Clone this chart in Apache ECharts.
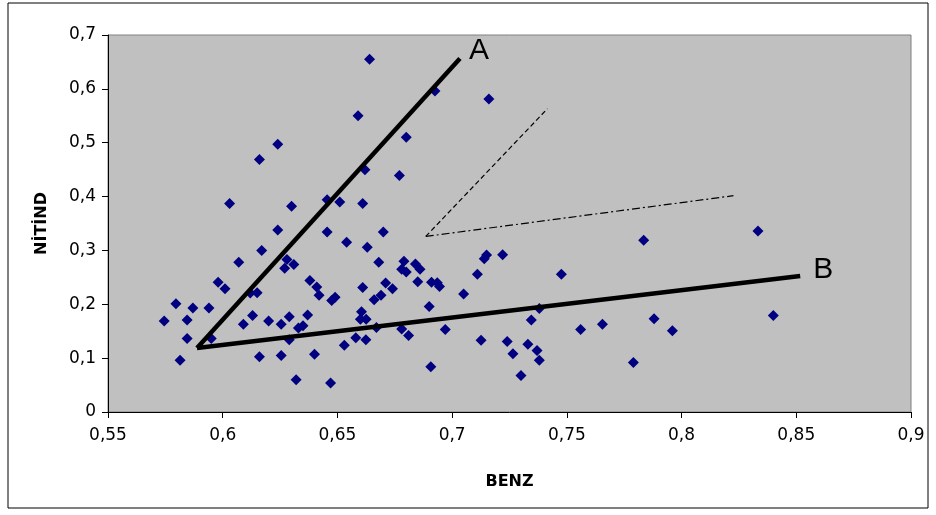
<!DOCTYPE html>
<html>
<head>
<meta charset="utf-8">
<script src="https://cdn.jsdelivr.net/npm/echarts@6/dist/echarts.min.js"></script>
<style>
html,body{margin:0;padding:0;background:#fff;}
#chart{width:936px;height:515px;}
</style>
</head>
<body>
<div id="chart"></div>
<script>
// BENZ (x) values
const benz = [
0.664,0.6925,0.716,0.659,0.680,0.624,0.616,0.662,0.677,0.603,
0.630,0.6455,0.651,0.661,0.624,0.6455,0.670,0.654,0.663,0.617,
0.607,0.628,0.627,0.631,0.668,0.679,0.678,0.680,0.684,0.686,
0.598,0.601,0.612,0.615,0.638,0.641,0.642,0.6475,0.649,0.661,
0.666,0.669,0.671,0.674,0.685,0.691,0.6935,0.6945,0.690,0.705,
0.711,0.715,0.714,0.722,0.7476,0.7835,0.8333,0.5796,0.587,0.594,
0.5745,0.5845,0.613,0.609,0.620,0.6255,0.629,0.633,0.637,0.635,
0.6605,0.660,0.6625,0.667,0.678,0.681,0.697,0.738,0.7345,0.756,
0.7655,0.788,0.796,0.840,0.5845,0.595,0.629,0.658,0.6624,0.653,
0.7126,0.724,0.733,0.737,0.7265,0.738,0.779,0.5814,0.616,0.6255,
0.640,0.632,0.647,0.6907,0.730
];
// NİTİND (y) values
const nitind = [
0.655,0.596,0.581,0.550,0.510,0.497,0.469,0.450,0.439,0.387,
0.382,0.394,0.390,0.387,0.338,0.334,0.334,0.315,0.306,0.300,
0.278,0.283,0.267,0.274,0.278,0.280,0.265,0.260,0.275,0.265,
0.241,0.229,0.221,0.2215,0.244,0.232,0.217,0.207,0.213,0.231,
0.2085,0.217,0.2395,0.229,0.242,0.241,0.240,0.233,0.196,0.219,
0.256,0.2915,0.2846,0.292,0.256,0.319,0.336,0.201,0.193,0.193,
0.169,0.171,0.179,0.163,0.169,0.163,0.177,0.156,0.180,0.160,
0.186,0.172,0.172,0.157,0.154,0.142,0.153,0.192,0.171,0.153,
0.163,0.173,0.151,0.179,0.1365,0.1365,0.134,0.138,0.134,0.124,
0.133,0.131,0.126,0.114,0.108,0.096,0.092,0.096,0.1025,0.105,
0.107,0.060,0.054,0.084,0.068
];
// annotation lines (x, y pairs)
const lineAx = [0.5888, 0.7034];
const lineAy = [0.1188, 0.6563];
const lineBx = [0.5888, 0.8517];
const lineBy = [0.1188, 0.2525];
const dashX = [0.6885, 0.7415];
const dashY = [0.326, 0.563];
const dashDotX = [0.6885, 0.8226];
const dashDotY = [0.326, 0.4016];
const lineLabels = ['A', 'B'];

const pts = benz.map((x, i) => [x, nitind[i]]);
const seg = (xs, ys) => xs.map((x, i) => [x, ys[i]]);
const labelPts = [
  { value: [lineAx[1], lineAy[1]], name: lineLabels[0], label: { offset: [0, -8] } },
  { value: [lineBx[1], lineBy[1]], name: lineLabels[1], label: { offset: [4, -6] } }
];
function fmt(v) {
  if (Math.abs(v) < 1e-9) return '0';
  return parseFloat(v.toFixed(2)).toString().replace('.', ',');
}
const tickFont = { fontFamily: 'DejaVu Sans, sans-serif', fontSize: 17, color: '#000' };

const chart = echarts.init(document.getElementById('chart'), null, { renderer: 'canvas' });
chart.setOption({
  animation: false,
  backgroundColor: '#fff',
  graphic: [{
    type: 'rect', shape: { x: 8, y: 3, width: 920, height: 505 },
    style: { fill: 'none', stroke: '#000', lineWidth: 1 }, z: 100, silent: true
  }],
  grid: {
    left: 108, right: 25, top: 35, bottom: 103,
    show: true, backgroundColor: '#C0C0C0', borderColor: '#808080', borderWidth: 1
  },
  xAxis: {
    type: 'value', min: 0.55, max: 0.9, interval: 0.05,
    name: 'BENZ', nameLocation: 'middle', nameGap: 62,
    nameTextStyle: { fontFamily: 'DejaVu Sans, sans-serif', fontWeight: 'bold', fontSize: 16, color: '#000' },
    axisLine: { show: true, lineStyle: { color: '#000', width: 1 } },
    axisTick: { show: true, length: 6, inside: false, lineStyle: { color: '#000' } },
    axisLabel: Object.assign({ margin: 15, formatter: fmt }, tickFont),
    splitLine: { show: false }
  },
  yAxis: {
    type: 'value', min: 0, max: 0.7, interval: 0.1,
    name: 'NİTİND', nameLocation: 'middle', nameGap: 58,
    nameTextStyle: { fontFamily: 'DejaVu Sans, sans-serif', fontWeight: 'bold', fontSize: 16, color: '#000' },
    axisLine: { show: true, lineStyle: { color: '#000', width: 1 } },
    axisTick: { show: true, length: 6, inside: false, lineStyle: { color: '#000' } },
    axisLabel: Object.assign({ margin: 12, formatter: fmt }, tickFont),
    splitLine: { show: false }
  },
  series: [
    {
      type: 'scatter', data: pts, symbol: 'diamond', symbolSize: 11,
      itemStyle: { color: '#000080', opacity: 1 }, z: 2
    },
    {
      type: 'line', data: seg(lineAx, lineAy), symbol: 'none',
      lineStyle: { color: '#000', width: 4.5 }, z: 5
    },
    {
      type: 'line', data: seg(lineBx, lineBy), symbol: 'none',
      lineStyle: { color: '#000', width: 4.5 }, z: 5
    },
    {
      type: 'line', data: seg(dashX, dashY), symbol: 'none',
      lineStyle: { color: '#000', width: 1.2, type: [5, 3] }, z: 4
    },
    {
      type: 'line', data: seg(dashDotX, dashDotY), symbol: 'none',
      lineStyle: { color: '#000', width: 1.2, type: [8, 3, 2, 3] }, z: 4
    },
    {
      type: 'scatter', data: labelPts, symbol: 'circle', symbolSize: 2,
      itemStyle: { color: 'rgba(0,0,0,0)', opacity: 1 }, z: 6,
      label: {
        show: true, formatter: '{b}', position: 'right', distance: 8,
        fontFamily: 'Liberation Sans, Arial, sans-serif', fontSize: 30, color: '#000'
      }
    }
  ]
});
</script>
</body>
</html>
